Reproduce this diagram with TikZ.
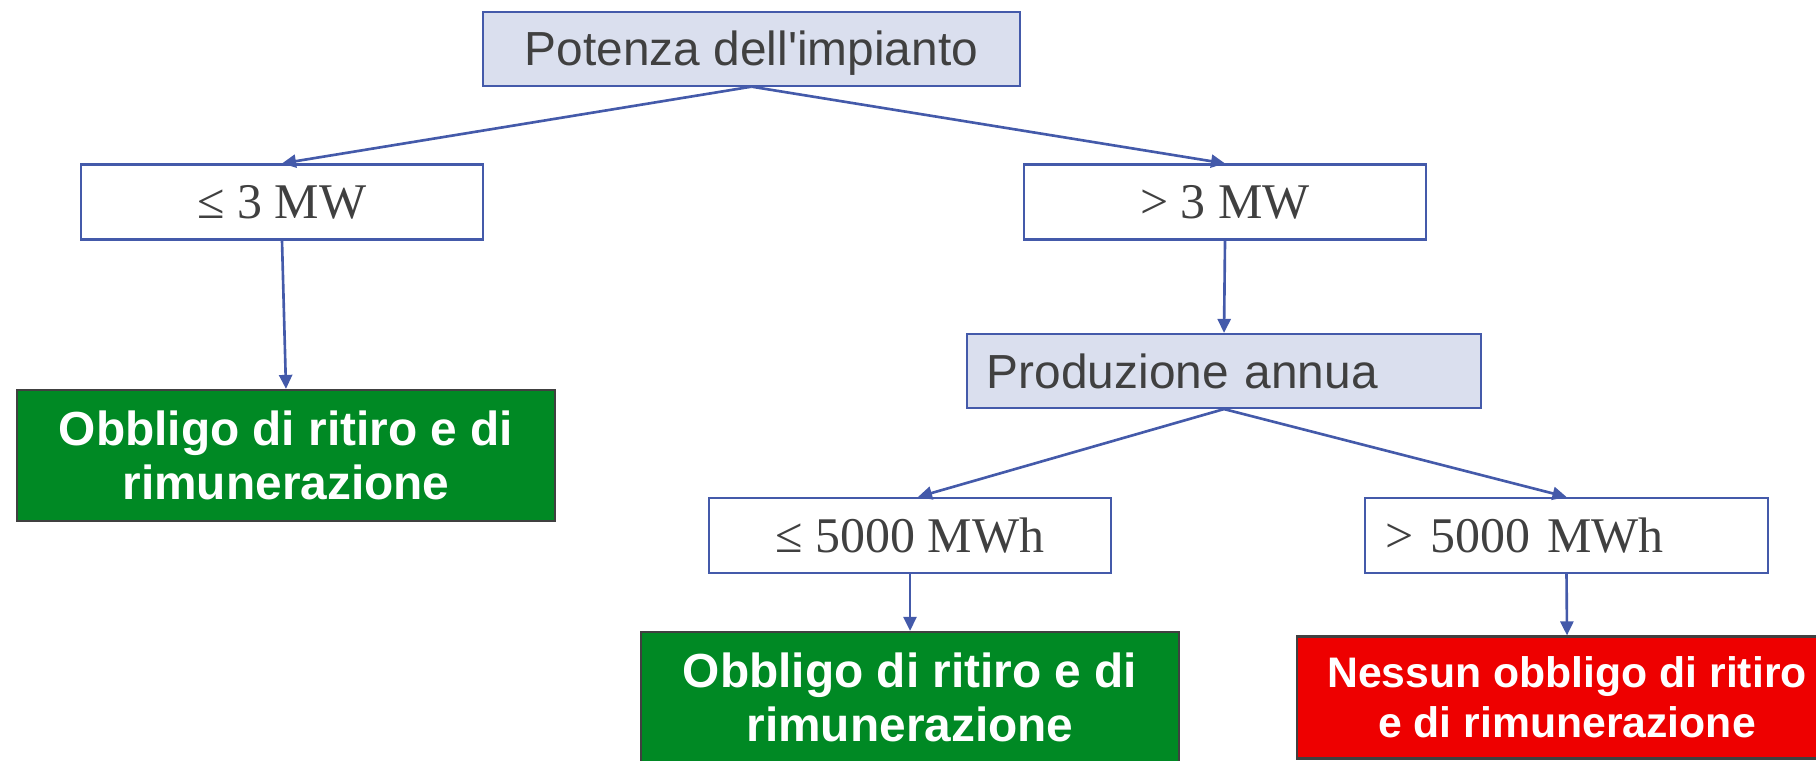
\documentclass[tikz,border=0pt]{standalone}
\usepackage{fontspec}
\setmainfont{Liberation Sans}
\newfontfamily\condfont{Liberation Serif}
\usetikzlibrary{arrows.meta}
\definecolor{lineblue}{RGB}{68,90,170}
\definecolor{headfill}{RGB}{218,223,238}
\definecolor{txtgray}{RGB}{64,64,64}
\definecolor{okgreen}{RGB}{0,137,36}
\definecolor{nored}{RGB}{238,0,0}
\begin{document}
\begin{tikzpicture}[x=0.01cm, y=-0.01cm,
  head/.style={draw=lineblue, fill=headfill, line width=0.6pt, text=txtgray,
    font=\fontsize{13.6}{15.6}\selectfont, minimum height=0.74cm, inner sep=0pt,
    text depth=0pt},
  cond/.style={draw=lineblue, fill=white, line width=0.6pt, text=txtgray,
    font=\condfont\fontsize{14.2}{16}\selectfont, minimum width=4.02cm,
    minimum height=0.75cm, inner sep=0pt},
  result/.style={draw=txtgray, line width=0.6pt, text=white, align=center,
    font=\bfseries\fontsize{13.6}{15.5}\selectfont, minimum width=5.38cm,
    minimum height=1.31cm, inner sep=0pt},
  link/.style={draw=lineblue, line width=0.75pt, -{Triangle[length=0.14cm,width=0.13cm]}}]
  \useasboundingbox (0,0) rectangle (1816,761);
  \clip (0,0) rectangle (1816,761);
  \node[head, minimum width=5.37cm] (Pot) at (751.5,48.6) {Potenza dell\textquotesingle impianto};
  \node[cond] (Le3) at (282,202) {≤ 3 MW};
  \node[cond] (Gt3) at (1225,202) {> 3 MW};
  \node[result, fill=okgreen] (Ob1) at (286,455.5) {Obbligo di ritiro e di\\rimunerazione};
  \node[head, text width=4.74cm, inner xsep=0.2cm, align=left] (Prod) at (1224,371) {Produzione annua};
  \node[cond] (Le5) at (910,535.5) {≤ 5000 MWh};
  \node[cond, text width=3.61cm, inner xsep=0.2cm, align=left] (Gt5) at (1566.5,535.5) {> 5000 MWh};
  \node[result, fill=okgreen] (Ob2) at (910,697.5) {Obbligo di ritiro e di\\rimunerazione};
  \node[result, fill=nored, minimum width=5.40cm, minimum height=1.22cm,
    font=\bfseries\fontsize{12.15}{14.2}\selectfont] (Nes) at (1567,697.5) {Nessun obbligo di ritiro\\e di rimunerazione};
  \draw[link] (Pot.south) -- (Le3.north);
  \draw[link] (Pot.south) -- (Gt3.north);
  \draw[link] (Le3.south) -- (Ob1.north);
  \draw[link] (Gt3.south) -- (Prod.north);
  \draw[link] (Prod.south) -- ([xshift=0.08cm]Le5.north);
  \draw[link] (Prod.south) -- (Gt5.north);
  \draw[link] (Le5.south) -- (Ob2.north);
  \draw[link] (Gt5.south) -- (Nes.north);
\end{tikzpicture}
\end{document}
